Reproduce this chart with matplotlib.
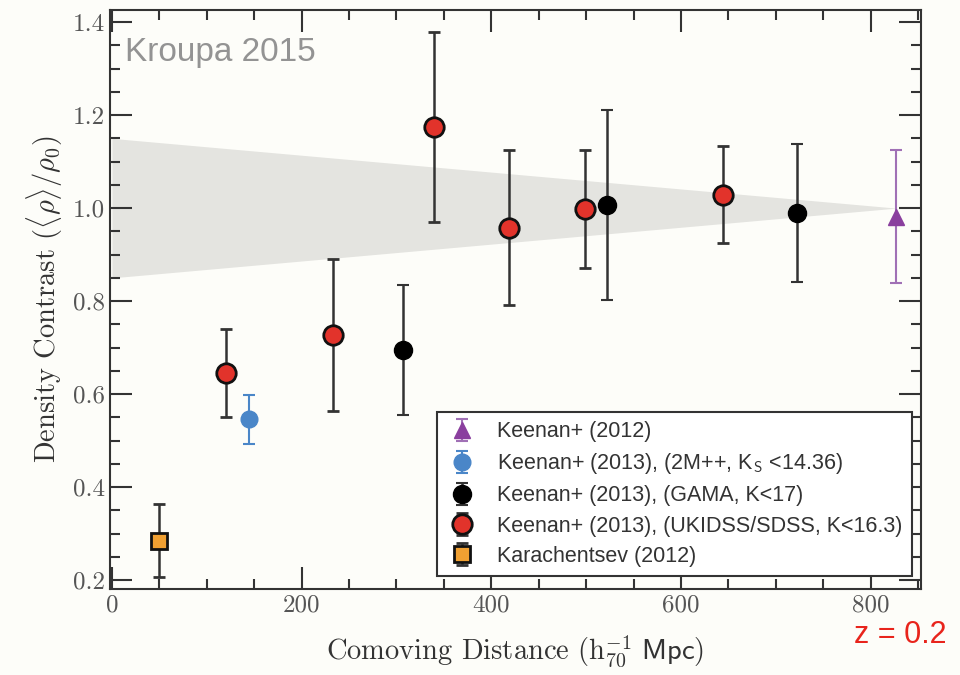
import matplotlib
matplotlib.use("Agg")
import matplotlib.pyplot as plt
from matplotlib.ticker import MultipleLocator

plt.rcParams['mathtext.fontset'] = 'cm'
plt.rcParams['axes.formatter.use_mathtext'] = True

# Data
kar_x, kar_y, kar_err = [50], [0.285], [0.078]
blue_x, blue_y, blue_err = [144], [0.546], [0.053]
black_x = [307, 522, 722]
black_y = [0.695, 1.006, 0.989]
black_err = [0.14, 0.204, 0.148]
red_x = [120, 233, 340, 419, 499, 644]
red_y = [0.646, 0.727, 1.174, 0.958, 0.998, 1.029]
red_err = [0.095, 0.163, 0.204, 0.167, 0.127, 0.104]
purp_x, purp_y, purp_err = [827], [0.981], [0.143]
wedge_x = [0, 827]
wedge_lo = [0.85, 1.0]
wedge_hi = [1.15, 1.0]
xticks = [0, 200, 400, 600, 800]
yticks = [0.2, 0.4, 0.6, 0.8, 1.0, 1.2, 1.4]

bg = '#fdfdf9'
fig = plt.figure(figsize=(9.6, 6.75), dpi=100, facecolor=bg)
ax = fig.add_axes([0.1146, 0.1274, 0.8448, 0.8578])
ax.set_facecolor(bg)

ax.fill_between(wedge_x, wedge_lo, wedge_hi, color='#e4e4e0', lw=0, zorder=1)

ecol = '#333333'
h1 = ax.errorbar(purp_x, purp_y, yerr=purp_err, fmt='^', color='#8a3f9e', ms=11,
                 ecolor='#a070b5', elinewidth=1.5, capsize=4, capthick=1.5, zorder=3,
                 label='Keenan+ (2012)')
h2 = ax.errorbar(blue_x, blue_y, yerr=blue_err, fmt='o', color='#4a86c8', ms=12,
                 ecolor='#4a86c8', elinewidth=1.5, capsize=4, capthick=1.5, zorder=3,
                 label=r'Keenan+ (2013), (2M++, K$_{\mathsf{S}}$ <14.36)')
h3 = ax.errorbar(black_x, black_y, yerr=black_err, fmt='o', color='black', ms=13,
                 ecolor=ecol, elinewidth=1.8, capsize=4, capthick=1.5, zorder=3,
                 label='Keenan+ (2013), (GAMA, K<17)')
h4 = ax.errorbar(red_x, red_y, yerr=red_err, fmt='o', mfc='#e2332b', mec='#111111', mew=2,
                 ms=14, ecolor=ecol, elinewidth=1.8, capsize=4, capthick=1.5, zorder=3,
                 label='Keenan+ (2013), (UKIDSS/SDSS, K<16.3)')
h5 = ax.errorbar(kar_x, kar_y, yerr=kar_err, fmt='s', mfc='#f0a032', mec='#111111', mew=2,
                 ms=12, ecolor=ecol, elinewidth=1.8, capsize=4, capthick=1.5, zorder=3,
                 label='Karachentsev (2012)')

ax.set_xlim(-2, 853)
ax.set_ylim(0.181, 1.426)
ax.xaxis.set_minor_locator(MultipleLocator(50))
ax.yaxis.set_minor_locator(MultipleLocator(0.05))
ax.set_yticks(yticks)
ax.set_yticklabels([f'{v:.1f}' for v in yticks])
ax.set_xticks(xticks)
ax.set_xticklabels([str(v) for v in xticks])
ax.tick_params(which='both', direction='in', top=True, right=True, color='#333333',
               width=1.5, labelsize=18, labelcolor='#555555')
ax.tick_params(which='major', length=16)
ax.tick_params(which='minor', length=7)
ax.tick_params(axis='x', pad=4)
for lab in ax.get_xticklabels() + ax.get_yticklabels():
    lab.set_family('cmr10')
for s in ax.spines.values():
    s.set_color('#333333')
    s.set_linewidth(1.5)

ax.set_ylabel(r'Density Contrast $(\langle\rho\rangle/\rho_0)$', family='cmr10',
              fontsize=20.5, color='#333333', labelpad=6)
ax.set_xlabel(r'Comoving Distance $(\mathrm{h}_{70}^{-1}\ \mathsf{Mpc})$', family='cmr10',
              fontsize=20.5, color='#333333', labelpad=12)

leg = ax.legend(handles=[h1, h2, h3, h4, h5], loc='lower right',
                bbox_to_anchor=(0.989, 0.022), borderaxespad=0, fancybox=False,
                edgecolor='#333333', facecolor='white', framealpha=1,
                prop={'family': 'Liberation Sans', 'size': 15.5}, labelspacing=0.42,
                handlelength=1.4, handletextpad=0.95, borderpad=0.45)
leg.get_frame().set_linewidth(1.5)
for t in leg.get_texts():
    t.set_color('#333333')

fig.text(0.13, 0.91, 'Kroupa 2015', color='#939393', fontsize=24,
         family='Liberation Sans')
fig.text(0.89, 0.048, 'z = 0.2', color='#e8241c', fontsize=22, family='Liberation Sans')

fig.savefig('out.png', dpi=100, facecolor=bg)
